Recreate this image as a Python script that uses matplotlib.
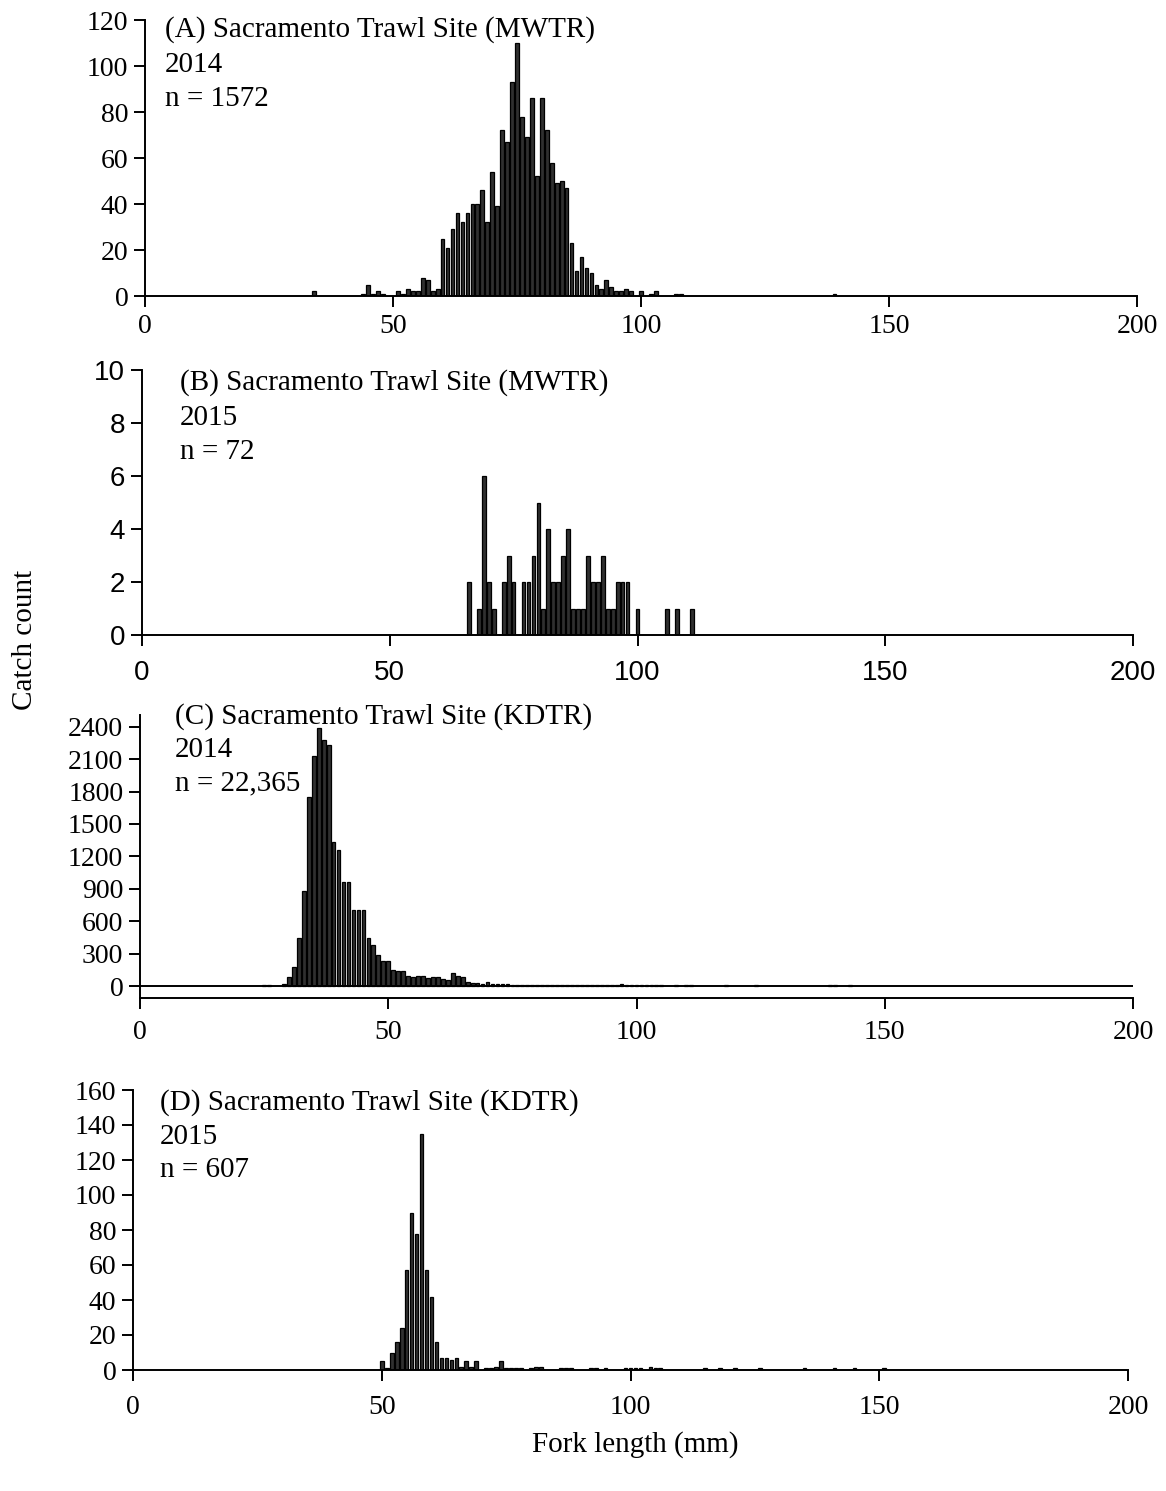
import numpy as np
import matplotlib
matplotlib.use("Agg")
import matplotlib.pyplot as plt

# ---- data (fork length in mm, catch count per 1 mm bin) ----
# (A) MWTR 2014
len_a = [34, 44, 45, 46, 47, 48, 51, 52, 53, 54, 55, 56, 57, 58, 59,
         60, 61, 62, 63, 64, 65, 66, 67, 68, 69,
         70, 71, 72, 73, 74, 75, 76, 77, 78, 79,
         80, 81, 82, 83, 84, 85, 86, 87, 88, 89,
         90, 91, 92, 93, 94, 95, 96, 97, 98,
         100, 102, 103, 107, 108, 139]
cnt_a = [2, 1, 5, 1, 2, 1, 2, 1, 3, 2, 2, 8, 7, 2, 3,
         25, 21, 29, 36, 32, 36, 40, 40, 46, 32,
         54, 39, 72, 67, 93, 110, 78, 69, 86, 52,
         86, 72, 58, 49, 50, 47, 23, 11, 17, 12,
         10, 5, 3, 7, 4, 2, 2, 3, 2,
         2, 1, 2, 1, 1, 1]

# (B) MWTR 2015
len_b = [66, 68, 69, 70, 71, 73, 74, 75, 77, 78, 79, 80, 81, 82, 83, 84,
         85, 86, 87, 88, 89, 90, 91, 92, 93, 94, 95, 96, 97, 98,
         100, 106, 108, 111]
cnt_b = [2, 1, 6, 2, 1, 2, 3, 2, 2, 2, 3, 5, 1, 4, 2, 2,
         3, 4, 1, 1, 1, 3, 2, 2, 3, 1, 1, 2, 2, 2,
         1, 1, 1, 1]

# (C) KDTR 2014
len_c = [25, 26, 29, 30, 31, 32, 33, 34, 35, 36, 37, 38, 39,
         40, 41, 42, 43, 44, 45, 46, 47, 48, 49,
         50, 51, 52, 53, 54, 55, 56, 57, 58, 59,
         60, 61, 62, 63, 64, 65, 66, 67, 68, 69,
         70, 71, 72, 73, 74, 75, 76, 77, 78, 79,
         80, 81, 82, 83, 84, 85, 86, 87, 88, 89,
         90, 91, 92, 93, 94, 95, 96, 97, 98, 99,
         100, 101, 102, 103, 104, 105, 108, 110, 111, 118, 124, 139, 140, 143]
cnt_c = [8, 6, 18, 80, 179, 442, 875, 1752, 2132, 2389, 2280, 2234, 1329,
         1261, 958, 958, 705, 705, 705, 442, 383, 287, 235,
         235, 148, 142, 142, 93, 87, 93, 93, 71, 80,
         80, 62, 56, 124, 93, 80, 40, 31, 25, 18,
         40, 18, 20, 18, 15, 12, 10, 10, 8, 8,
         10, 8, 8, 6, 8, 6, 6, 8, 6, 8,
         12, 8, 10, 8, 6, 12, 10, 14, 8, 8,
         12, 10, 8, 12, 8, 10, 8, 8, 10, 8, 8, 8, 8, 10]

# (D) KDTR 2015
len_d = [50, 51, 52, 53, 54, 55, 56, 57, 58, 59, 60, 61, 62, 63, 64, 65,
         66, 67, 68, 69, 71, 72, 73, 74, 75, 76, 77, 78, 80, 81, 82,
         86, 87, 88, 92, 93, 95, 99, 100, 101, 102, 104, 105, 106,
         115, 118, 121, 126, 135, 141, 145, 151]
cnt_d = [5, 1, 10, 16, 24, 57, 90, 78, 135, 57, 42, 16, 7, 7, 6, 7,
         2, 5, 2, 5, 1, 1, 2, 5, 1, 1, 1, 1, 1, 2, 2,
         1, 1, 1, 1, 1, 1, 1, 1, 1, 1, 2, 1, 1,
         1, 1, 1, 1, 1, 1, 1, 1]

labels = [["(A) Sacramento Trawl Site (MWTR)", "2014", "n = 1572"],
          ["(B) Sacramento Trawl Site (MWTR)", "2015", "n = 72"],
          ["(C) Sacramento Trawl Site (KDTR)", "2014", "n = 22,365"],
          ["(D) Sacramento Trawl Site (KDTR)", "2015", "n = 607"]]

W, H = 1166, 1491
SERIF = "Liberation Serif"
SANS = "Liberation Sans"


def px(x0, y0, x1, y1):
    # pixel box -> figure fraction [left, bottom, width, height]
    return [x0 / W, 1 - y1 / H, (x1 - x0) / W, (y1 - y0) / H]


fig = plt.figure(figsize=(W / 100, H / 100), dpi=100)

panels = [
    (len_a, cnt_a, px(145, 20, 1137, 296), (0, 120), np.arange(0, 121, 20), SERIF, 5),
    (len_b, cnt_b, px(142, 370, 1133, 635), (0, 10), np.arange(0, 11, 2), SANS, 10),
    (len_c, cnt_c, px(140, 715, 1133, 998), (-111, 2508), np.arange(0, 2401, 300), SERIF, 8),
    (len_d, cnt_d, px(133, 1090, 1128, 1370), (0, 160), np.arange(0, 161, 20), SERIF, 10),
]
text_pos = [(165, [30, 65, 99]), (180, [383, 418, 452]),
            (175, [717, 750, 783]), (160, [1103, 1137, 1170])]

for i, (xs, ys, box, ylim, yt, fam, xpad) in enumerate(panels):
    ax = fig.add_axes(box)
    ax.bar(xs, ys, width=0.75, color="#303030", edgecolor="black", linewidth=0.9)
    ax.set_xlim(0, 200)
    ax.set_ylim(*ylim)
    ax.set_xticks([0, 50, 100, 150, 200])
    ax.set_yticks(yt)
    for s in ["top", "right"]:
        ax.spines[s].set_visible(False)
    for s in ["left", "bottom"]:
        ax.spines[s].set_linewidth(1.4)
    ax.tick_params(direction="out", length=8, width=1.4, labelsize=20, pad=4)
    ax.tick_params(axis="x", pad=xpad)
    for lab in ax.get_xticklabels() + ax.get_yticklabels():
        lab.set_family(fam)
    if i == 2:
        ax.axhline(0, color="black", linewidth=1.4)
    x0, ys_txt = text_pos[i]
    for t, yy in zip(labels[i], ys_txt):
        fig.text(x0 / W, 1 - yy / H, t, family=SERIF, fontsize=21, va="center", ha="left")

fig.text(25 / W, 1 - 640 / H, "Catch count", family=SERIF, fontsize=21,
         rotation=90, va="center", ha="center")
fig.text(635 / W, 1 - 1445 / H, "Fork length (mm)", family=SERIF, fontsize=21,
         va="center", ha="center")

fig.savefig("out.png", dpi=100, facecolor="white")
